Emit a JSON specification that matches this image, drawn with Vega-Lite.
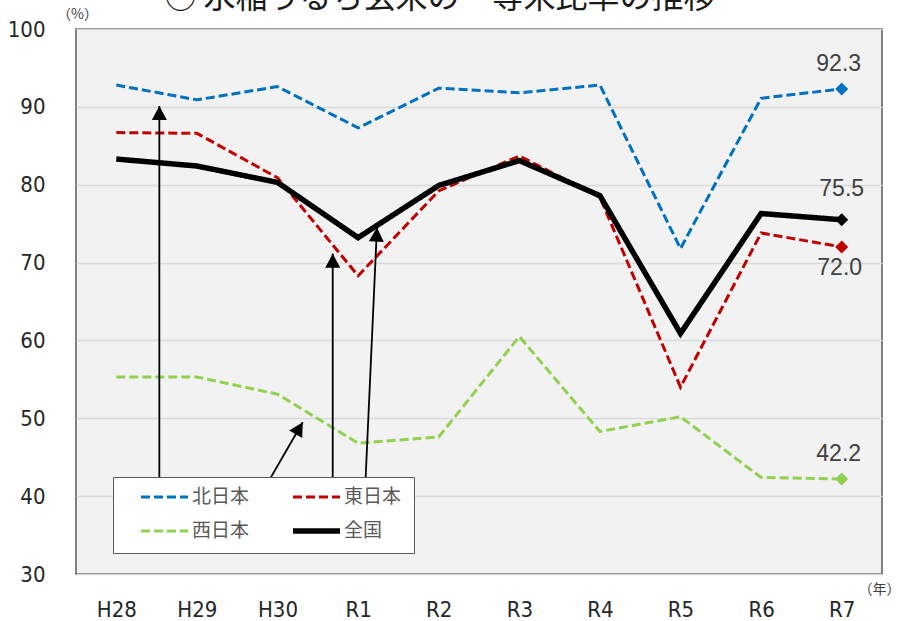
{
  "$schema": "https://vega.github.io/schema/vega-lite/v6.json",
  "width": 806,
  "height": 545,
  "autosize": "none",
  "padding": {"left": 76, "top": 29, "right": 20, "bottom": 47},
  "background": "white",
  "title": {
    "text": "○ 水稲うるち玄米の一等米比率の推移",
    "font": "Noto Sans CJK JP",
    "fontSize": 32,
    "fontWeight": "normal",
    "color": "#1a1a1a",
    "anchor": "middle",
    "frame": "group",
    "dx": -39,
    "dy": 40,
    "offset": 0,
    "baseline": "bottom"
  },
  "config": {
    "view": {"fill": "#f2f2f2", "stroke": "#595959", "strokeWidth": 1.5}
  },
  "datasets": {
    "rates": [
      {"year": "H28", "region": "北日本", "value": 92.8},
      {"year": "H29", "region": "北日本", "value": 90.9},
      {"year": "H30", "region": "北日本", "value": 92.6},
      {"year": "R1", "region": "北日本", "value": 87.3},
      {"year": "R2", "region": "北日本", "value": 92.4},
      {"year": "R3", "region": "北日本", "value": 91.8},
      {"year": "R4", "region": "北日本", "value": 92.8},
      {"year": "R5", "region": "北日本", "value": 71.8},
      {"year": "R6", "region": "北日本", "value": 91.1},
      {"year": "R7", "region": "北日本", "value": 92.3},
      {"year": "H28", "region": "東日本", "value": 86.7},
      {"year": "H29", "region": "東日本", "value": 86.6},
      {"year": "H30", "region": "東日本", "value": 80.9},
      {"year": "R1", "region": "東日本", "value": 68.3},
      {"year": "R2", "region": "東日本", "value": 79.2},
      {"year": "R3", "region": "東日本", "value": 83.7},
      {"year": "R4", "region": "東日本", "value": 78.4},
      {"year": "R5", "region": "東日本", "value": 54.0},
      {"year": "R6", "region": "東日本", "value": 73.8},
      {"year": "R7", "region": "東日本", "value": 72.0},
      {"year": "H28", "region": "西日本", "value": 55.3},
      {"year": "H29", "region": "西日本", "value": 55.3},
      {"year": "H30", "region": "西日本", "value": 53.1},
      {"year": "R1", "region": "西日本", "value": 46.8},
      {"year": "R2", "region": "西日本", "value": 47.6},
      {"year": "R3", "region": "西日本", "value": 60.5},
      {"year": "R4", "region": "西日本", "value": 48.3},
      {"year": "R5", "region": "西日本", "value": 50.2},
      {"year": "R6", "region": "西日本", "value": 42.4},
      {"year": "R7", "region": "西日本", "value": 42.2},
      {"year": "H28", "region": "全国", "value": 83.3},
      {"year": "H29", "region": "全国", "value": 82.4},
      {"year": "H30", "region": "全国", "value": 80.3},
      {"year": "R1", "region": "全国", "value": 73.2},
      {"year": "R2", "region": "全国", "value": 79.9},
      {"year": "R3", "region": "全国", "value": 83.1},
      {"year": "R4", "region": "全国", "value": 78.6},
      {"year": "R5", "region": "全国", "value": 60.9},
      {"year": "R6", "region": "全国", "value": 76.3},
      {"year": "R7", "region": "全国", "value": 75.5}
    ],
    "arrows": [
      {"arrow": "北日本", "x": 1.034, "value": 40.1, "x2": 1.034, "value2": 90.1},
      {"arrow": "西日本", "x": 2.076, "value": 36.3, "x2": 2.813, "value2": 49.5},
      {"arrow": "東日本", "x": 3.185, "value": 40.1, "x2": 3.185, "value2": 71.15},
      {"arrow": "全国", "x": 3.567, "value": 36.3, "x2": 3.734, "value2": 74.5}
    ]
  },
  "encoding": {
    "y": {
      "field": "value",
      "type": "quantitative",
      "scale": {"domain": [30, 100], "nice": false, "zero": false},
      "axis": {
        "title": "（%）",
        "titleAngle": 0,
        "titleX": 1,
        "titleY": -15,
        "titleAlign": "center",
        "titleBaseline": "middle",
        "titleFont": "Noto Sans CJK JP",
        "titleFontSize": 14,
        "titleFontWeight": "normal",
        "titleColor": "#404040",
        "values": [30, 40, 50, 60, 70, 80, 90, 100],
        "labelFont": "Liberation Sans Narrow, DejaVu Sans Condensed, Liberation Sans",
        "labelFontSize": 22,
        "labelColor": "#262626",
        "labelPadding": 31,
        "ticks": false,
        "domain": false,
        "grid": true,
        "gridColor": "#d9d9d9",
        "gridWidth": 1.5
      }
    }
  },
  "layer": [
    {
      "data": {"name": "rates"},
      "encoding": {
        "x": {
          "field": "year",
          "type": "ordinal",
          "sort": ["H28", "H29", "H30", "R1", "R2", "R3", "R4", "R5", "R6", "R7"],
          "scale": {"type": "point", "padding": 0.5},
          "axis": {
            "title": "（年）",
            "titleX": 803,
            "titleY": 15,
            "titleAlign": "center",
            "titleBaseline": "middle",
            "titleFont": "Noto Sans CJK JP",
            "titleFontSize": 14,
            "titleFontWeight": "normal",
            "titleColor": "#404040",
            "labelAngle": 0,
            "labelFont": "Liberation Sans Narrow, DejaVu Sans Condensed, Liberation Sans",
            "labelFontSize": 22,
            "labelColor": "#262626",
            "labelBaseline": "middle",
            "labelPadding": 35,
            "ticks": false,
            "domain": false,
            "grid": false
          }
        }
      },
      "layer": [
        {
          "mark": {"type": "line", "strokeCap": "butt"},
          "encoding": {
            "color": {
              "field": "region",
              "type": "nominal",
              "scale": {"domain": ["北日本", "西日本", "東日本", "全国"], "range": ["#0070C0", "#92D050", "#C00000", "#000000"]},
              "legend": {
                "orient": "none",
                "legendX": 37,
                "legendY": 448,
                "columns": 2,
                "title": null,
                "symbolType": "stroke",
                "symbolSize": 2209,
                "symbolStrokeWidth": 3,
                "symbolOffset": 13,
                "clipHeight": 16,
                "rowPadding": 15,
                "columnPadding": 27,
                "padding": 12,
                "fillColor": "white",
                "strokeColor": "#595959",
                "labelFont": "Noto Sans CJK JP",
                "labelFontSize": 19,
                "labelColor": "#595959",
                "labelOffset": 1
              }
            },
            "strokeDash": {
              "field": "region",
              "type": "nominal",
              "scale": {"domain": ["北日本", "西日本", "東日本", "全国"], "range": [[9, 4], [9, 4], [9, 4], [1, 0]]}
            },
            "strokeWidth": {
              "field": "region",
              "type": "nominal",
              "scale": {"type": "ordinal", "domain": ["北日本", "西日本", "東日本", "全国"], "range": [3, 3, 3, 5.5]}
            }
          }
        },
        {
          "transform": [{"filter": "datum.year === 'R7'"}],
          "mark": {"type": "point", "shape": "diamond", "filled": true, "size": 170, "opacity": 1},
          "encoding": {
            "color": {"field": "region", "type": "nominal", "legend": null}
          }
        },
        {
          "transform": [{"filter": "datum.year === 'R7' && (datum.region === '北日本' || datum.region === '西日本')"}],
          "mark": {"type": "text", "font": "Liberation Sans", "fontSize": 23, "color": "#404040", "dy": -25, "dx": -3, "baseline": "middle"},
          "encoding": {"text": {"field": "value", "type": "quantitative", "format": ".1f"}}
        },
        {
          "transform": [{"filter": "datum.year === 'R7' && datum.region === '全国'"}],
          "mark": {"type": "text", "font": "Liberation Sans", "fontSize": 23, "color": "#404040", "dy": -31, "dx": 0, "baseline": "middle"},
          "encoding": {"text": {"field": "value", "type": "quantitative", "format": ".1f"}}
        },
        {
          "transform": [{"filter": "datum.year === 'R7' && datum.region === '東日本'"}],
          "mark": {"type": "text", "font": "Liberation Sans", "fontSize": 23, "color": "#404040", "dy": 21, "dx": -2, "baseline": "middle"},
          "encoding": {"text": {"field": "value", "type": "quantitative", "format": ".1f"}}
        }
      ]
    },
    {
      "data": {"name": "arrows"},
      "layer": [
        {
          "mark": {"type": "rule", "color": "black", "strokeWidth": 1.8},
          "encoding": {
            "x": {"field": "x", "type": "quantitative", "scale": {"domain": [0, 10], "nice": false, "zero": false}, "axis": null},
            "x2": {"field": "x2"},
            "y2": {"field": "value2"}
          }
        },
        {
          "transform": [{"filter": "datum.arrow === '北日本' || datum.arrow === '東日本'"}],
          "mark": {"type": "point", "shape": "M0,0L-1,1.87L1,1.87Z", "filled": true, "color": "black", "opacity": 1, "size": 225, "angle": 0},
          "encoding": {
            "x": {"field": "x2", "type": "quantitative", "axis": null},
            "y": {"field": "value2", "type": "quantitative"}
          }
        },
        {
          "transform": [{"filter": "datum.arrow === '西日本'"}],
          "mark": {"type": "point", "shape": "M0,0L-1,1.87L1,1.87Z", "filled": true, "color": "black", "opacity": 1, "size": 225, "angle": 30},
          "encoding": {
            "x": {"field": "x2", "type": "quantitative", "axis": null},
            "y": {"field": "value2", "type": "quantitative"}
          }
        },
        {
          "transform": [{"filter": "datum.arrow === '全国'"}],
          "mark": {"type": "point", "shape": "M0,0L-1,1.87L1,1.87Z", "filled": true, "color": "black", "opacity": 1, "size": 225, "angle": 2.6},
          "encoding": {
            "x": {"field": "x2", "type": "quantitative", "axis": null},
            "y": {"field": "value2", "type": "quantitative"}
          }
        }
      ]
    }
  ],
  "resolve": {"scale": {"x": "independent"}}
}
